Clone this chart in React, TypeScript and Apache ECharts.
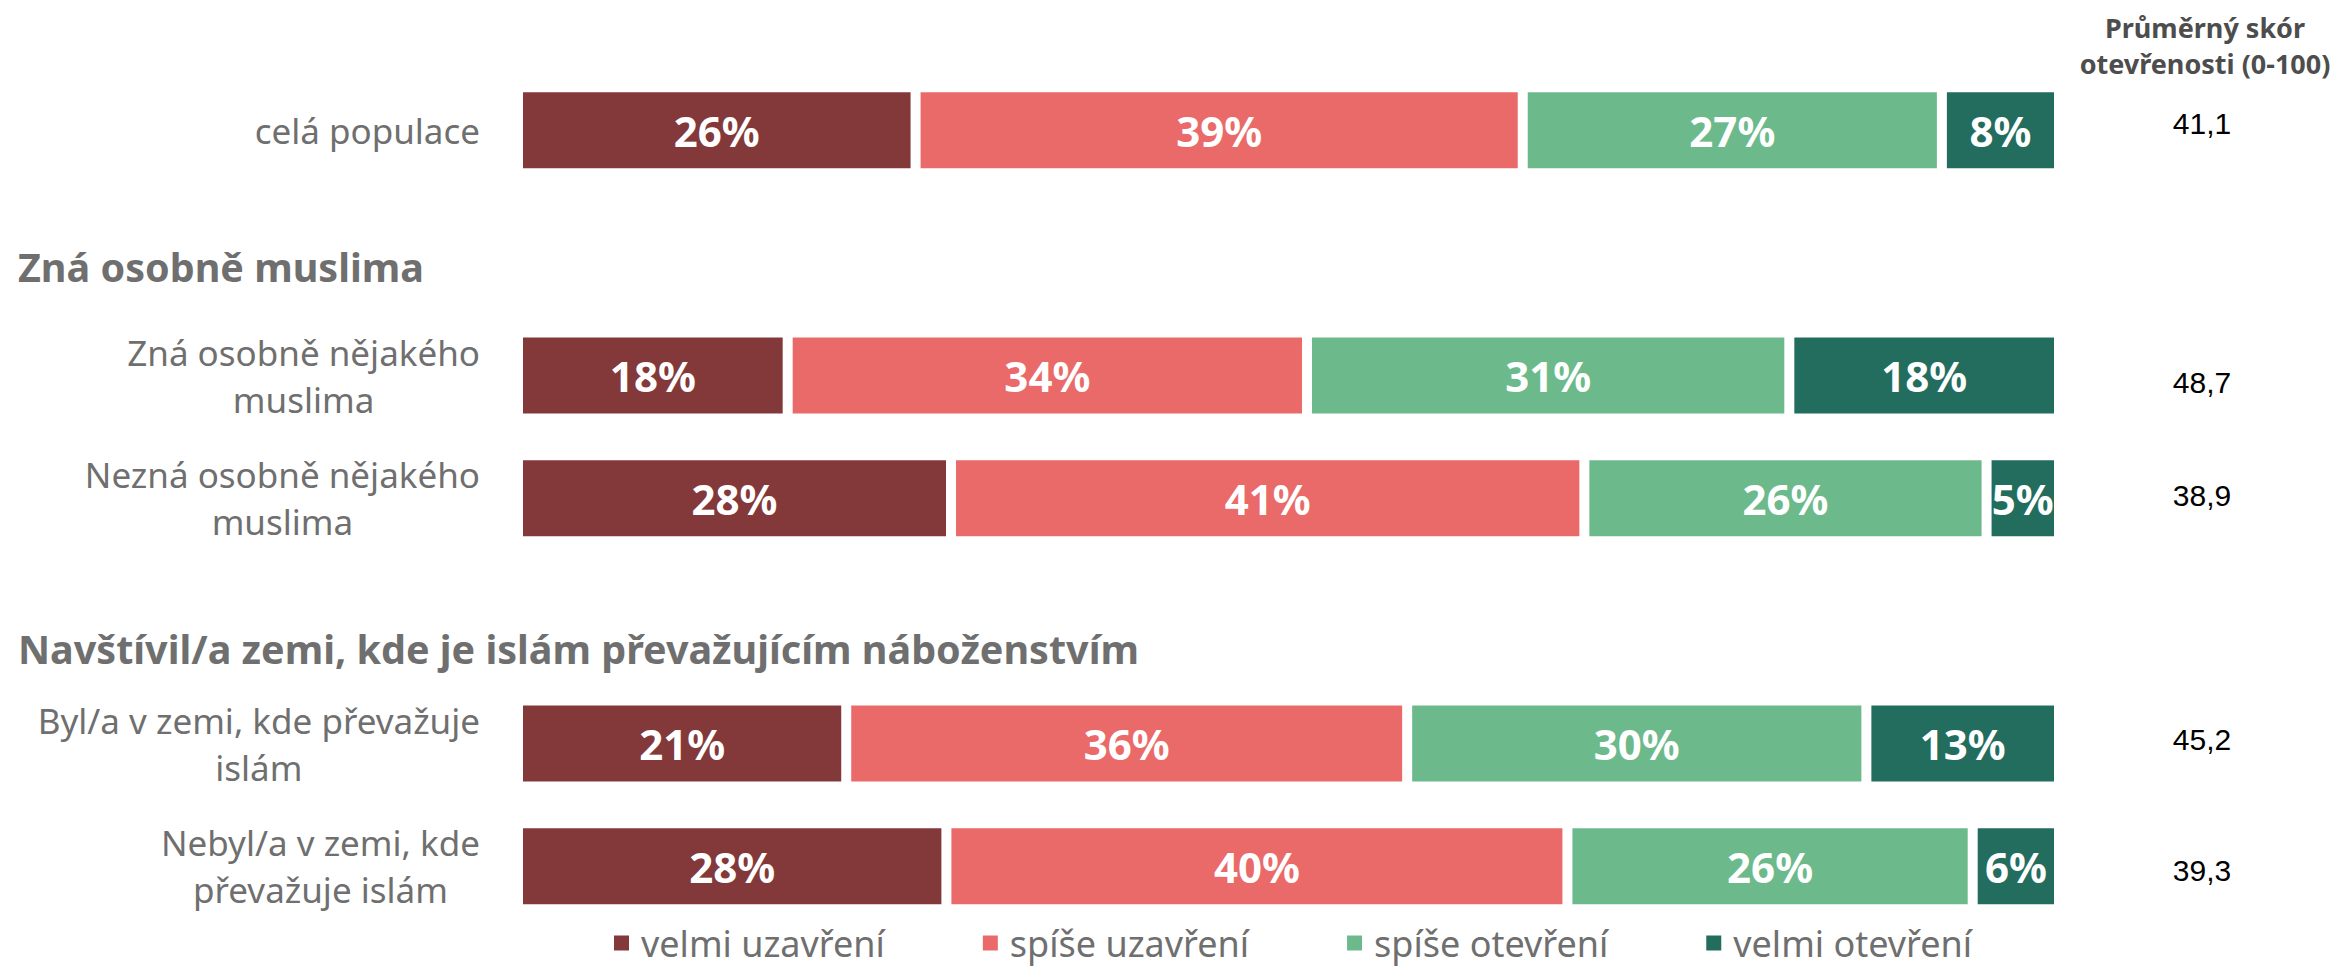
import React, { useEffect, useRef } from 'react';
import * as echarts from 'echarts';

const categories = [
  'celá populace',
  'Zná osobně muslima',
  'Zná osobně nějakého\nmuslima',
  'Nezná osobně nějakého\nmuslima',
  'Navštívil/a zemi, kde je islám převažujícím náboženstvím',
  'Byl/a v zemi, kde převažuje\nislám',
  'Nebyl/a v zemi, kde\npřevažuje islám',
];
const headerSlots = [1, 4];

const seriesNames = ['velmi uzavření', 'spíše uzavření', 'spíše otevření', 'velmi otevření'];
const seriesColors = ['#83383A', '#EA6A69', '#6CBA8C', '#226D5E'];

const velmiUzavreni = [25.8, null, 17.5, 28.1, null, 21.3, 27.8];
const spiseUzavreni = [39.4, null, 33.7, 41.1, null, 36.4, 40.3];
const spiseOtevreni = [27.2, null, 31.3, 26.1, null, 29.8, 26.3];
const velmiOtevreni = [7.6, null, 17.5, 4.7, null, 12.5, 5.6];

const scores = ['41,1', '', '48,7', '38,9', '', '45,2', '39,3'];
const scoreTitle = 'Průměrný skór\notevřenosti (0-100)';

const FONT = "'Noto Sans', 'Open Sans', sans-serif";
const GRAY = '#6F6F6F';

// small vertical nudges of the score texts relative to row centres (px)
const scoreNudge = [-7, 0, 6.5, -2.5, 0, -4, 4.5];

export default function App() {
  const ref = useRef<HTMLDivElement>(null);
  useEffect(() => {
    const chart = echarts.init(ref.current!, null, { renderer: 'svg' });
    const values = [velmiUzavreni, spiseUzavreni, spiseOtevreni, velmiOtevreni];
    const scoreRich: any = {};
    scoreNudge.forEach((d, i) => {
      scoreRich['s' + i] = {
        fontSize: 30,
        color: '#000000',
        fontFamily: "'Liberation Sans', Arial, sans-serif",
        padding: d >= 0 ? [2 * d, 0, 0, 0] : [0, 0, -2 * d, 0],
      };
    });
    const option: any = {
      animation: false,
      backgroundColor: '#ffffff',
      grid: { left: 518, right: 277, top: 69, bottom: 39.5, containLabel: false },
      xAxis: { type: 'value', min: 0, max: 100, show: false },
      yAxis: [
        {
          type: 'category',
          inverse: true,
          data: categories,
          axisLine: { show: false },
          axisTick: { show: false },
          splitLine: { show: false },
          axisLabel: {
            margin: 38,
            align: 'right',
            formatter: (value: string, idx: number) => {
              if (headerSlots.includes(idx)) return '';
              return value
                .split('\n')
                .map((l) => `{c|${l}}`)
                .join('\n');
            },
            rich: {
              c: { align: 'center', fontSize: 35, lineHeight: 47, color: GRAY, fontFamily: FONT },
            },
          },
        },
        {
          type: 'category',
          inverse: true,
          position: 'right',
          data: scores,
          axisLine: { show: false },
          axisTick: { show: false },
          splitLine: { show: false },
          axisLabel: {
            margin: 143,
            align: 'center',
            formatter: (value: string, idx: number) => (value ? `{s${idx}|${value}}` : ''),
            rich: scoreRich,
          },
        },
      ],
      legend: {
        data: seriesNames,
        left: 612,
        top: 925,
        padding: 0,
        itemWidth: 17,
        itemHeight: 17,
        itemGap: 96,
        icon: 'rect',
        textStyle: { fontSize: 36, color: GRAY, fontFamily: FONT, lineHeight: 36, padding: [0, 0, 0, 6] },
      },
      series: seriesNames.map((name, i) => ({
        name,
        type: 'bar',
        stack: 'total',
        yAxisIndex: 0,
        barWidth: 86,
        data: values[i],
        itemStyle: { color: seriesColors[i], borderColor: '#ffffff', borderWidth: 5 },
        label: {
          show: true,
          position: 'inside',
          color: '#ffffff',
          fontWeight: 'bold',
          fontSize: 42,
          fontFamily: FONT,
          formatter: (p: any) => (p.value == null ? '' : Math.round(p.value) + '%'),
        },
      })),
      graphic: [
        {
          type: 'text',
          left: 18,
          top: 270 - 23,
          style: { text: categories[1], fontSize: 39.5, fontWeight: 'bold', fill: GRAY, fontFamily: FONT },
        },
        {
          type: 'text',
          left: 18,
          top: 651 - 22,
          style: { text: categories[4], fontSize: 39.5, fontWeight: 'bold', fill: GRAY, fontFamily: FONT },
        },
        {
          type: 'text',
          x: 2205,
          y: 9,
          style: {
            text: scoreTitle,
            fontSize: 27,
            fontWeight: 'bold',
            fill: '#4D4D4D',
            fontFamily: FONT,
            align: 'center',
            lineHeight: 36,
          },
        },
      ],
    };
    chart.setOption(option);
    return () => chart.dispose();
  }, []);
  return (
    <div
      ref={ref}
      style={{ position: 'fixed', left: 0, top: 0, width: 2336, height: 967, background: '#ffffff' }}
    />
  );
}
